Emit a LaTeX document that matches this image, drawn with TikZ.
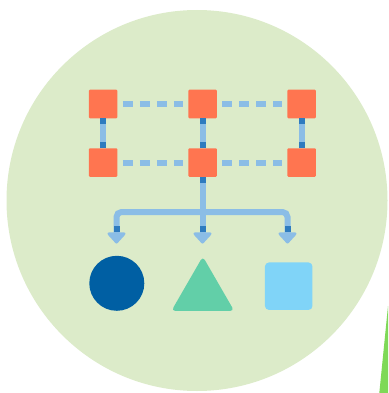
\documentclass[tikz,border=0pt]{standalone}
\usepackage{tikz}
\usetikzlibrary{arrows.meta, shapes.geometric}
\usepackage{xcolor}
\definecolor{bgcircle}{RGB}{220, 235, 201}
\definecolor{boxorange}{RGB}{255, 117, 80}
\definecolor{linkblue}{RGB}{139, 189, 230}
\definecolor{capblue}{RGB}{46, 123, 191}
\definecolor{darkblue}{RGB}{0, 95, 163}
\definecolor{mint}{RGB}{98, 207, 168}
\definecolor{skyblue}{RGB}{128, 212, 248}
\definecolor{leafgreen}{RGB}{126, 217, 87}

\begin{document}
\begin{tikzpicture}[x=1pt, y=-1pt,
    box/.style={fill=boxorange, minimum size=28.5pt, inner sep=0pt, rounded corners=1pt},
    link/.style={linkblue, line width=6pt},
    dotlink/.style={link, dash pattern=on 10pt off 7pt, shorten <=5.5pt, shorten >=5.5pt},
    capmark/.style={capblue, line width=6pt},
    tip/.style={-{Triangle[width=21pt, length=12pt, round]}}]
        \useasboundingbox (0,0) rectangle (388,393);
        
        % 背景圆
        \fill[bgcircle] (197,200.5) circle (190.5);
        \fill[leafgreen] (388,306) -- (379.3,393) -- (388,393) -- cycle;
        
        % 方块
        \foreach \name/\x/\y in {t1/103/104, t2/202.5/104, t3/301.5/104, b1/103/162.5, b2/202.5/162.5, b3/301.5/162.5} {
            \node[box] (\name) at (\x, \y) {};
        }
        
        % 虚线连接
        \draw[dotlink] (t1) -- (t2);
        \draw[dotlink] (t2) -- (t3);
        \draw[dotlink] (b1) -- (b2);
        \draw[dotlink] (b2) -- (b3);
        
        % 竖线连接
        \foreach \top/\bot in {t1/b1, t2/b2, t3/b3} {
            \draw[link] (\top.south) -- (\bot.north);
            \draw[capmark] (\top.south) -- ++(0,6);
            \draw[capmark] (\bot.north) -- ++(0,-6);
        }
        
        % 分支
        \coordinate (j) at (202.5,212);
        \coordinate (a1) at (116.5,243.5);
        \coordinate (a2) at (202.5,243.5);
        \coordinate (a3) at (287.5,243.5);
        \draw[link] (b2.south) -- (j);
        \draw[capmark] (b2.south) -- ++(0,6);
        \draw[link, tip, rounded corners=5pt] (j) -| (a1);
        \draw[link, tip] (j) -- (a2);
        \draw[link, tip, rounded corners=5pt] (j) -| (a3);
        \foreach \a in {a1, a2, a3} {
            \draw[capmark] (\a) ++(0,-17.5) -- ++(0,5.5);
        }
        
        % 三个图形
        \node[circle, fill=darkblue, minimum size=55pt, inner sep=0pt] (circ) at (116.8,283.3) {};
        \node[regular polygon, regular polygon sides=3, fill=mint, minimum size=72.6pt, inner sep=0pt, rounded corners=4pt] (tri) at (202.8,292.8) {};
        \node[fill=skyblue, minimum size=47.5pt, inner sep=0pt, rounded corners=4pt] (sq) at (288.7,286.2) {};
        
    \end{tikzpicture}
\end{document}
